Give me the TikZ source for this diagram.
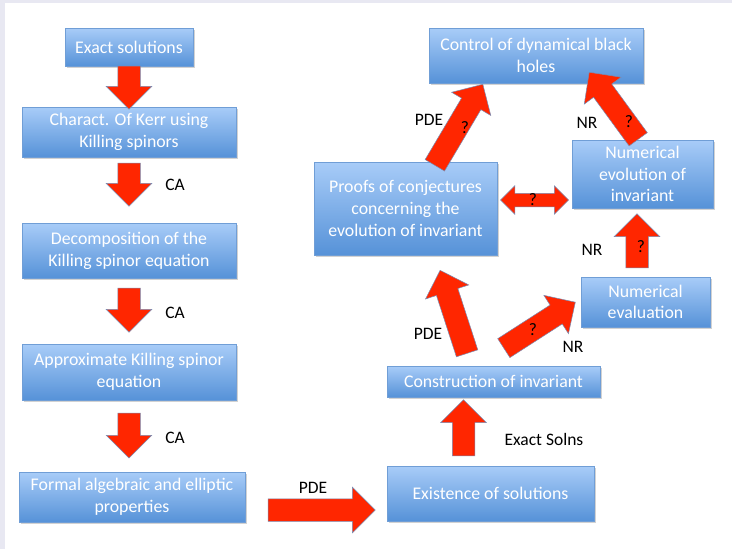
\documentclass[tikz,border=0pt]{standalone}
\usepackage{fontspec}
\setmainfont{Carlito}
\usetikzlibrary{shapes.arrows,calc,shadows}

\definecolor{boxtop}{RGB}{168,204,248}
\definecolor{boxbot}{RGB}{86,146,216}
\definecolor{boxedge}{RGB}{112,158,214}
\definecolor{arrred}{RGB}{255,38,0}
\definecolor{arredge}{RGB}{120,140,180}
\definecolor{bgframe}{RGB}{232,232,242}

\tikzset{
  box/.style={rectangle, draw=boxedge, line width=0.8pt, top color=boxtop, bottom color=boxbot,
    text=white, align=center, font=\fontsize{17.8}{21.7}\selectfont, inner sep=2pt,
    drop shadow={shadow xshift=1.5pt, shadow yshift=-2pt, opacity=0.35}},
  barrow/.style={single arrow, draw=arredge, line width=0.5pt, fill=arrred, inner xsep=0pt, inner ysep=11pt,
    minimum width=45, single arrow head extend=11.5, single arrow head indent=0pt},
  darrow/.style={double arrow, draw=arredge, line width=0.5pt, fill=arrred, inner xsep=0pt, inner ysep=6.5pt,
    minimum width=28, double arrow head extend=7.5, double arrow head indent=0pt},
  lbl/.style={text=black, font=\fontsize{17.5}{21}\selectfont, inner sep=0pt},
}

\newcommand\barr[3][]{\path let \p1=($(#3)-(#2)$), \n1={atan2(\y1,\x1)}, \n2={veclen(\x1,\y1)} in
  node[barrow,#1,minimum height=\n2,rotate=\n1,anchor=tip] at (#3) {};}

\begin{document}
\begin{tikzpicture}[x=1pt,y=-1pt]
\useasboundingbox (0,0) rectangle (732,549);
\fill[bgframe] (0,0) rectangle (732,549);
\fill[white] (5,3) rectangle (732,549);

% boxes
\node[box, minimum width=128, minimum height=38] (exact) at (129,47) {Exact solutions};
\node[box, minimum width=214, minimum height=50] (kerr) at (129,132) {Charact. Of Kerr using\\Killing spinors};
\node[box, minimum width=214, minimum height=55] (decomp) at (129,250.5) {Decomposition of the\\Killing spinor equation};
\node[box, minimum width=214, minimum height=56] (approx) at (129,372) {Approximate Killing spinor\\equation};
\node[box, minimum width=226, minimum height=50] (formal) at (132,497) {Formal algebraic and elliptic\\properties};
\node[box, minimum width=207, minimum height=55] (exist) at (490.5,493.5) {Existence of solutions};
\node[box, minimum width=213, minimum height=31] (constr) at (493.5,381.5) {Construction of invariant};
\node[box, minimum width=129, minimum height=50] (numeval) at (645.5,302) {Numerical\\evaluation};
\node[box, minimum width=183, minimum height=93] (proofs) at (405.5,208.5) {Proofs of conjectures\\concerning the\\evolution of invariant};
\node[box, minimum width=141, minimum height=68] (numevol) at (642.5,174) {Numerical\\evolution of\\invariant};
\node[box, minimum width=214, minimum height=55] (control) at (536,55.5) {Control of dynamical black\\holes};

% arrow end points
\coordinate (a1t) at ($(exact.south)+(0,0)$);
\coordinate (a1h) at ($(kerr.north)+(0,3)$);
\coordinate (a2t) at ($(kerr.south)+(0,6)$);
\coordinate (a2h) at ($(decomp.north)+(0,-16)$);
\coordinate (a3t) at ($(decomp.south)+(0,10)$);
\coordinate (a3h) at ($(approx.north)+(0,-11)$);
\coordinate (a4t) at ($(approx.south)+(0,13)$);
\coordinate (a4h) at ($(approx.south)+(0,58)$);
\coordinate (a5t) at ($(formal.east)+(23,13)$);
\coordinate (a5h) at ($(exist.west)+(-11,16.5)$);
\coordinate (a6t) at ($(exist.north)+(-27,-10)$);
\coordinate (a6h) at ($(constr.south)+(-30,2)$);
\coordinate (a7t) at (467,353);
\coordinate (a7h) at (440,270);
\coordinate (a8t) at (504,348);
\coordinate (a8h) at ($(numeval.west)+(-5,0)$);
\coordinate (a9t) at ($(numeval.north)+(-8.5,-9)$);
\coordinate (a9h) at ($(numevol.south)+(-5.5,5)$);
\coordinate (a10t) at (435,165);
\coordinate (a10h) at (483,84);
\coordinate (a11t) at (638,139);
\coordinate (a11h) at (589,72);

\barr{a1t}{a1h}
\barr{a2t}{a2h}
\barr{a3t}{a3h}
\barr{a4t}{a4h}
\barr{a5t}{a5h}
\barr{a6t}{a6h}
\barr{a7t}{a7h}
\barr{a8t}{a8h}
\barr{a9t}{a9h}
\barr{a10t}{a10h}
\barr{a11t}{a11h}
\node[darrow, minimum height=68] (dbl) at ($(proofs.east)!0.5!(numevol.west |- proofs.east)+(0,-8.5)$) {};

% labels
\node[lbl] (ca1) at (175,185) {CA};
\node[lbl] (ca2) at (175,313) {CA};
\node[lbl] (ca3) at (175,438) {CA};
\node[lbl] (pde1) at (313,488) {PDE};
\node[lbl] (es) at (544,439) {Exact Solns};
\node[lbl] (pde2) at (428,334) {PDE};
\node[lbl] (nr1) at (573,347) {NR};
\node[lbl] (q1) at (533,330) {?};
\node[lbl] (nr2) at (592,250) {NR};
\node[lbl] (q2) at (641,247) {?};
\node[lbl] (q3) at (533,200) {?};
\node[lbl] (pde3) at (429,120) {PDE};
\node[lbl] (q4) at (465,128) {?};
\node[lbl] (nr3) at (587,123) {NR};
\node[lbl] (q5) at (629,122) {?};
\end{tikzpicture}
\end{document}
